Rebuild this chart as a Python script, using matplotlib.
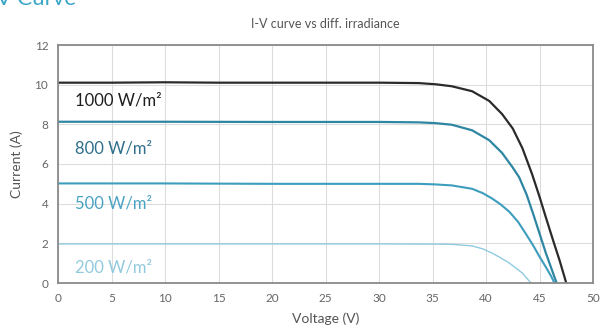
import matplotlib
matplotlib.use("Agg")
import matplotlib.pyplot as plt

# I-V curves
v_1000 = [0, 5, 10, 15, 20, 25, 30, 33.7, 35.3, 36.8, 38.7, 40.3, 41.5, 42.5, 43.4, 44.3, 45.0, 45.6, 46.3, 46.9, 47.5]
i_1000 = [10.1, 10.1, 10.12, 10.1, 10.1, 10.1, 10.1, 10.08, 10.02, 9.92, 9.67, 9.18, 8.52, 7.79, 6.8, 5.5, 4.35, 3.3, 2.1, 1.1, 0]

v_800 = [0, 10, 20, 30, 33.7, 35.3, 36.8, 38.7, 40.3, 41.5, 42.5, 43.1, 43.8, 44.4, 45.0, 45.6, 46.1, 46.6]
i_800 = [8.13, 8.13, 8.12, 8.12, 8.1, 8.06, 7.98, 7.7, 7.2, 6.56, 5.82, 5.33, 4.45, 3.5, 2.5, 1.5, 0.75, 0]

v_500 = [0, 10, 20, 30, 33.7, 35.3, 36.8, 38.7, 39.7, 40.6, 41.4, 42.2, 43.0, 43.7, 44.4, 45.0, 45.6, 46.1, 46.4]
i_500 = [5.02, 5.02, 5.0, 5.0, 5.0, 4.97, 4.92, 4.75, 4.53, 4.25, 3.95, 3.58, 3.08, 2.5, 1.9, 1.33, 0.8, 0.33, 0]

v_200 = [0, 10, 20, 30, 35, 36.8, 38.7, 39.7, 40.6, 41.4, 42.2, 43.4, 44.2]
i_200 = [1.97, 1.97, 1.97, 1.97, 1.96, 1.95, 1.87, 1.72, 1.5, 1.26, 1.0, 0.5, 0]

labels = ["1000 W/m²", "800 W/m²", "500 W/m²", "200 W/m²"]
label_y = [9.2, 6.8, 4.0, 0.8]
colors = ["#2b2b2b", "#2f86a3", "#3c9dbd", "#8fcbe0"]
text_colors = ["#1e1e1e", "#2f6f8c", "#4aa3c4", "#92c9dd"]
widths = [1.6, 1.6, 1.5, 1.0]

x_ticks = list(range(0, 51, 5))
y_ticks = list(range(0, 13, 2))

plt.rcParams['font.family'] = ['Lato', 'DejaVu Sans']

fig = plt.figure(figsize=(6.01, 3.34), dpi=100)
ax = fig.add_axes([58 / 601, 51 / 334, 535 / 601, 238 / 334])

curves = [(v_1000, i_1000), (v_800, i_800), (v_500, i_500), (v_200, i_200)]
for (v, i), c, w in zip(curves, colors, widths):
    ax.plot(v, i, color=c, linewidth=w, solid_capstyle='round', solid_joinstyle='round')

for lab, y, c in zip(labels, label_y, text_colors):
    ax.text(1.6, y, lab, color=c, fontsize=12, va='center', ha='left')

ax.set_xlim(0, 50)
ax.set_ylim(0, 12)
ax.set_xticks(x_ticks)
ax.set_yticks(y_ticks)
ax.grid(True, color='#dcdcdc', linewidth=0.8)
ax.set_axisbelow(True)
for s in ax.spines.values():
    s.set_color('#8a8a8a')
    s.set_linewidth(1.3)
ax.tick_params(length=0, labelsize=8.5, labelcolor='#666666', pad=7)

ax.set_xlabel("Voltage (V)", fontsize=10, color='#555555', labelpad=6)
ax.set_ylabel("Current (A)", fontsize=10, color='#555555', labelpad=8)
ax.set_title("I-V curve vs diff. irradiance", fontsize=9, color='#555555', pad=12)

# page heading cut off at the top of the picture
fig.text(-0.03, 0.985, "I-V Curve", fontsize=16, color='#3aa6c8', va='baseline', ha='left')

fig.savefig("out.png", dpi=100)
